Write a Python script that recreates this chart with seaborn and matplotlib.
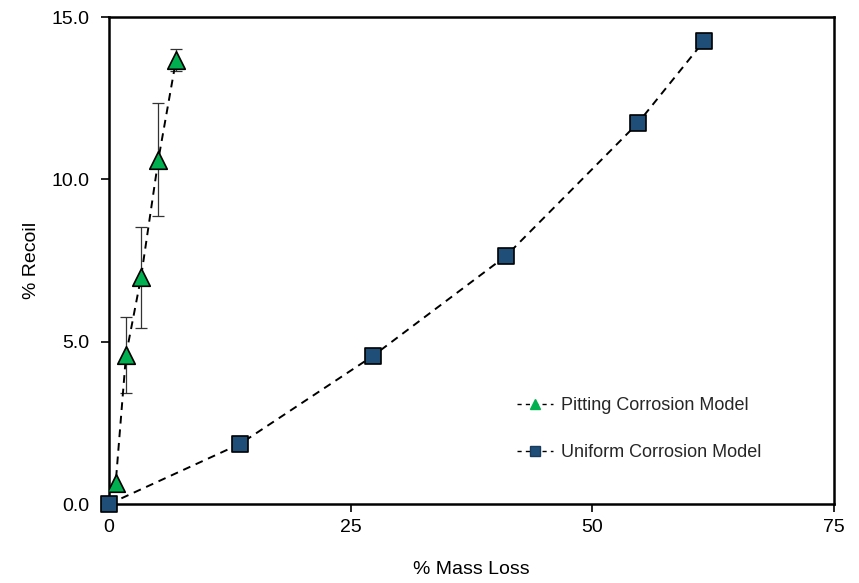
import matplotlib
matplotlib.use("Agg")
import matplotlib.pyplot as plt
import seaborn as sns
import pandas as pd
from matplotlib.lines import Line2D

# Data
pit_mass = [0.0, 0.69, 1.76, 3.31, 5.1, 6.93]
pit_recoil = [0.0, 0.64, 4.59, 6.98, 10.6, 13.67]
pit_err = [0.0, 0.0, 1.17, 1.55, 1.74, 0.33]

uni_mass = [0.0, 13.55, 27.3, 41.07, 54.7, 61.55]
uni_recoil = [0.0, 1.85, 4.56, 7.64, 11.73, 14.26]

x_ticks = [0, 25, 50, 75]
y_ticks = [0.0, 5.0, 10.0, 15.0]
y_tick_labels = ["0.0", "5.0", "10.0", "15.0"]

green = "#00B050"
blue = "#1F4E79"

sns.set_theme(style="white")
plt.rcParams["font.family"] = ["Liberation Sans", "DejaVu Sans"]

fig = plt.figure(figsize=(8.59, 5.83), dpi=100)
ax = fig.add_axes([0.1269, 0.1355, 0.8440, 0.8353])

pit_df = pd.DataFrame({"mass": pit_mass, "recoil": pit_recoil})
uni_df = pd.DataFrame({"mass": uni_mass, "recoil": uni_recoil})

ax.errorbar(pit_mass[2:], pit_recoil[2:], yerr=pit_err[2:], fmt="none",
            ecolor="#333333", elinewidth=0.9, capsize=4, capthick=0.9, zorder=2)

sns.lineplot(data=pit_df, x="mass", y="recoil", ax=ax, color="black",
             linestyle=(0, (4, 3)), linewidth=1.4, sort=False, zorder=3)
ax.scatter(pit_mass[1:], pit_recoil[1:], marker="^", s=160, color=green,
           edgecolor="black", linewidth=1.2, zorder=4)

sns.lineplot(data=uni_df, x="mass", y="recoil", ax=ax, color="black",
             linestyle=(0, (4, 3)), linewidth=1.4, sort=False, zorder=3)
ax.scatter(uni_mass, uni_recoil, marker="s", s=130, color=blue,
           edgecolor="black", linewidth=1.2, zorder=5, clip_on=False)

ax.set_xlim(0, 75)
ax.set_ylim(0, 15)
ax.set_xticks(x_ticks)
ax.set_xticklabels([str(t) for t in x_ticks])
ax.set_yticks(y_ticks)
ax.set_yticklabels(y_tick_labels)
ax.tick_params(axis="both", which="both", direction="out", length=6, width=1.2,
               labelsize=14, color="black", labelcolor="black",
               bottom=True, left=True, pad=5)
ax.tick_params(axis="y", pad=8)
for s in ax.spines.values():
    s.set_visible(True)
    s.set_color("black")
    s.set_linewidth(1.8)

ax.set_xlabel("% Mass Loss", fontsize=14, color="black", labelpad=18)
ax.set_ylabel("% Recoil", fontsize=14, color="black", labelpad=8)
ax.grid(False)

handles = [
    Line2D([0], [0], color="black", linestyle=(0, (3, 3)), linewidth=1,
           marker="^", markersize=7, markerfacecolor=green, markeredgecolor=green),
    Line2D([0], [0], color="black", linestyle=(0, (3, 3)), linewidth=1,
           marker="s", markersize=7, markerfacecolor=blue, markeredgecolor="#1a3a5c"),
]
ax.legend(handles, ["Pitting Corrosion Model", "Uniform Corrosion Model"],
          loc="center left", bbox_to_anchor=(0.563, 0.154), frameon=False,
          borderaxespad=0, borderpad=0,
          fontsize=13, handlelength=2.0, labelspacing=1.65, handletextpad=0.4)

fig.savefig("out.png", dpi=100)
